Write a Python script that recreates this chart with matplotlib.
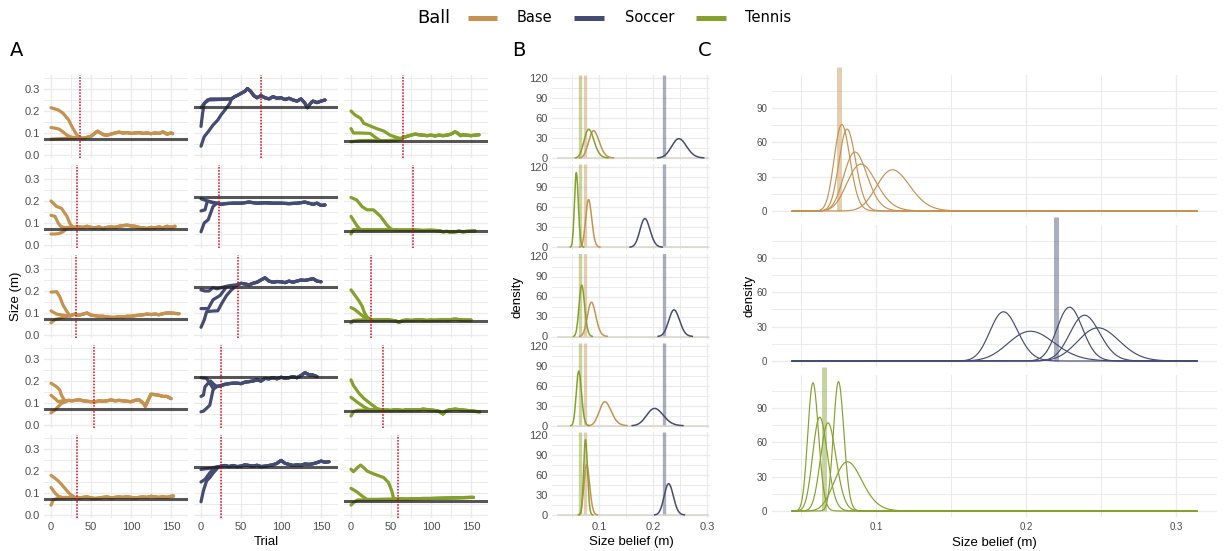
import numpy as np
import matplotlib
matplotlib.use("Agg")
import matplotlib.pyplot as plt
from matplotlib.lines import Line2D
from matplotlib.ticker import FixedLocator, NullFormatter

plt.rcParams['font.family'] = ['Liberation Sans', 'DejaVu Sans']

# ---------------- data ----------------
BALLS = ["Base", "Soccer", "Tennis"]
BALL_COLORS = ["#C69250", "#454C73", "#85A02C"]
TRUE_SIZE = [0.075, 0.22, 0.065]

# trial at which the red dotted line is drawn (rows = participants)
CONV_BASE = [36, 33, 31, 54, 33]
CONV_SOCCER = [75, 22, 46, 25, 25]
CONV_TENNIS = [65, 77.5, 25, 39.5, 59]

# Panel A trajectories: three starts (high / mid / low) then a shared converged tail
BASE_P1 = dict(
    high=([0, 9, 15, 22, 26, 30, 34], [0.215, 0.205, 0.19, 0.16, 0.13, 0.105, 0.083]),
    mid=([0, 5, 10, 15, 20, 25, 30], [0.125, 0.122, 0.118, 0.105, 0.09, 0.082, 0.078]),
    low=([0, 10, 20, 30], [0.072, 0.074, 0.076, 0.078]),
    tail=([35, 40, 45, 50, 55, 58, 62, 66, 70, 75, 80, 85, 90, 95, 100, 105, 110, 115, 120, 125, 130, 135, 140, 145, 150, 152],
          [0.08, 0.076, 0.08, 0.085, 0.1, 0.108, 0.1, 0.092, 0.09, 0.095, 0.1, 0.104, 0.1, 0.102, 0.098, 0.1, 0.102, 0.098, 0.1, 0.097, 0.1, 0.098, 0.105, 0.095, 0.1, 0.097]))
BASE_P2 = dict(
    high=([0, 7, 13, 20, 24, 28], [0.2, 0.175, 0.167, 0.13, 0.095, 0.08]),
    mid=([0, 5, 9, 12, 16], [0.135, 0.13, 0.1, 0.085, 0.08]),
    low=([0, 5, 10, 15, 20], [0.05, 0.05, 0.052, 0.06, 0.075]),
    tail=([28, 35, 40, 45, 50, 55, 60, 65, 70, 75, 80, 85, 90, 95, 100, 105, 110, 115, 120, 125, 130, 135, 140, 145, 150, 155],
          [0.08, 0.082, 0.08, 0.085, 0.08, 0.078, 0.082, 0.075, 0.08, 0.082, 0.08, 0.085, 0.088, 0.09, 0.087, 0.085, 0.08, 0.078, 0.075, 0.08, 0.078, 0.082, 0.078, 0.085, 0.08, 0.085]))
BASE_P3 = dict(
    high=([0, 7, 11, 15, 20, 24], [0.195, 0.197, 0.174, 0.136, 0.106, 0.085]),
    mid=([0, 7, 15, 20], [0.11, 0.095, 0.09, 0.088]),
    low=([0, 5, 10, 15], [0.055, 0.07, 0.075, 0.08]),
    tail=([24, 30, 35, 40, 45, 50, 55, 60, 65, 70, 75, 80, 85, 90, 95, 100, 105, 110, 115, 120, 125, 130, 135, 140, 145, 150, 155, 160],
          [0.088, 0.095, 0.09, 0.095, 0.1, 0.09, 0.088, 0.085, 0.085, 0.082, 0.08, 0.08, 0.083, 0.082, 0.085, 0.085, 0.088, 0.09, 0.092, 0.095, 0.093, 0.095, 0.092, 0.097, 0.1, 0.1, 0.098, 0.097]))
BASE_P4 = dict(
    high=([0, 7, 11, 13, 18], [0.19, 0.174, 0.159, 0.136, 0.106]),
    mid=([0, 5, 9, 14], [0.135, 0.12, 0.106, 0.11]),
    low=([0, 5, 9, 13, 18], [0.055, 0.068, 0.083, 0.098, 0.105]),
    tail=([18, 22, 26, 30, 35, 40, 45, 50, 55, 60, 65, 70, 75, 80, 85, 90, 95, 100, 105, 110, 115, 118, 121, 125, 130, 135, 140, 145, 150],
          [0.108, 0.112, 0.11, 0.112, 0.115, 0.11, 0.108, 0.106, 0.105, 0.11, 0.108, 0.11, 0.114, 0.11, 0.112, 0.11, 0.108, 0.106, 0.112, 0.115, 0.1, 0.085, 0.11, 0.14, 0.138, 0.135, 0.13, 0.13, 0.12]))
BASE_P5 = dict(
    high=([0, 5, 9, 13, 20, 24, 28], [0.18, 0.167, 0.155, 0.14, 0.11, 0.094, 0.085]),
    mid=([0, 5, 9, 14], [0.125, 0.1, 0.086, 0.08]),
    low=([0, 3, 8], [0.045, 0.07, 0.075]),
    tail=([28, 35, 40, 45, 50, 55, 60, 65, 70, 75, 80, 85, 90, 95, 100, 105, 110, 115, 120, 125, 130, 135, 140, 145, 150, 153],
          [0.08, 0.078, 0.08, 0.082, 0.078, 0.075, 0.077, 0.08, 0.082, 0.078, 0.08, 0.082, 0.08, 0.083, 0.08, 0.078, 0.08, 0.082, 0.08, 0.085, 0.082, 0.08, 0.083, 0.08, 0.085, 0.086]))

SOCCER_P1 = dict(
    high=([0, 3, 6, 10], [0.215, 0.23, 0.24, 0.25]),
    mid=([0, 2, 4, 8, 12], [0.13, 0.19, 0.235, 0.25, 0.255]),
    low=([0, 4, 9, 15, 21, 25, 30, 36], [0.04, 0.083, 0.106, 0.136, 0.159, 0.182, 0.205, 0.235]),
    tail=([38, 42, 46, 50, 55, 58, 62, 66, 70, 75, 80, 85, 90, 95, 100, 105, 110, 115, 120, 125, 130, 133, 137, 140, 145, 150, 155],
          [0.255, 0.265, 0.272, 0.28, 0.29, 0.302, 0.29, 0.27, 0.26, 0.27, 0.26, 0.255, 0.265, 0.258, 0.26, 0.252, 0.258, 0.25, 0.245, 0.255, 0.235, 0.215, 0.235, 0.245, 0.238, 0.245, 0.25]))
SOCCER_P2 = dict(
    high=([0, 4, 8, 12, 16, 20], [0.21, 0.205, 0.2, 0.195, 0.19, 0.19]),
    mid=([0, 5, 8, 14, 20], [0.155, 0.16, 0.2, 0.195, 0.19]),
    low=([0, 4, 9, 15, 20], [0.06, 0.1, 0.115, 0.175, 0.19]),
    tail=([20, 25, 30, 40, 50, 60, 70, 80, 90, 100, 110, 120, 130, 140, 145, 150, 155],
          [0.19, 0.185, 0.188, 0.19, 0.19, 0.195, 0.19, 0.192, 0.19, 0.19, 0.188, 0.19, 0.195, 0.185, 0.19, 0.18, 0.182]))
SOCCER_P3 = dict(
    high=([0, 5, 10, 15, 20, 25, 30, 38], [0.205, 0.2, 0.2, 0.215, 0.21, 0.215, 0.22, 0.225]),
    mid=([0, 9, 15, 24, 32, 38], [0.12, 0.12, 0.16, 0.18, 0.22, 0.225]),
    low=([0, 4, 7, 15, 21, 26, 32, 38, 45], [0.035, 0.068, 0.106, 0.109, 0.11, 0.144, 0.18, 0.205, 0.227]),
    tail=([45, 50, 55, 60, 65, 70, 75, 80, 85, 90, 95, 100, 105, 110, 115, 120, 125, 130, 135, 140, 145, 150],
          [0.227, 0.235, 0.232, 0.228, 0.235, 0.24, 0.25, 0.26, 0.245, 0.24, 0.243, 0.242, 0.238, 0.245, 0.24, 0.245, 0.25, 0.248, 0.252, 0.256, 0.245, 0.242]))
SOCCER_P4 = dict(
    high=([0, 7, 11, 15, 20], [0.215, 0.212, 0.19, 0.167, 0.175]),
    mid=([0, 3, 5, 9, 12, 16, 20], [0.13, 0.136, 0.174, 0.19, 0.2, 0.185, 0.175]),
    low=([0, 3, 7, 11, 15, 17, 20], [0.06, 0.063, 0.076, 0.09, 0.159, 0.167, 0.175]),
    tail=([20, 26, 30, 35, 40, 45, 50, 55, 60, 65, 70, 75, 80, 85, 90, 95, 100, 105, 110, 115, 120, 125, 130, 135, 140, 145],
          [0.175, 0.18, 0.185, 0.188, 0.19, 0.19, 0.188, 0.195, 0.197, 0.2, 0.205, 0.2, 0.212, 0.21, 0.215, 0.21, 0.217, 0.213, 0.215, 0.22, 0.215, 0.225, 0.238, 0.228, 0.227, 0.22]))
SOCCER_P5 = dict(
    high=([0, 5, 10, 15, 21], [0.207, 0.21, 0.212, 0.215, 0.22]),
    mid=([0, 5, 11, 17, 21], [0.15, 0.162, 0.192, 0.215, 0.218]),
    low=([0, 3, 7, 11, 15, 21], [0.06, 0.11, 0.155, 0.17, 0.19, 0.215]),
    tail=([21, 25, 30, 35, 40, 45, 50, 55, 60, 65, 70, 75, 80, 85, 90, 95, 100, 105, 110, 115, 120, 125, 130, 135, 140, 145, 150, 155, 160],
          [0.218, 0.222, 0.225, 0.22, 0.225, 0.22, 0.222, 0.228, 0.225, 0.222, 0.226, 0.22, 0.222, 0.225, 0.228, 0.235, 0.248, 0.235, 0.23, 0.225, 0.228, 0.226, 0.232, 0.23, 0.233, 0.238, 0.245, 0.24, 0.242]))

TENNIS_P1 = dict(
    high=([0, 5, 12, 16, 24, 32, 41, 49, 57, 62], [0.2, 0.182, 0.167, 0.144, 0.132, 0.12, 0.109, 0.09, 0.08, 0.075]),
    mid=([0, 3, 12, 24, 32, 37, 45, 55, 62], [0.12, 0.1, 0.1, 0.098, 0.076, 0.065, 0.065, 0.067, 0.072]),
    low=([0, 10, 20, 30, 40, 50, 62], [0.06, 0.065, 0.066, 0.065, 0.065, 0.066, 0.07]),
    tail=([62, 66, 70, 75, 80, 85, 90, 95, 100, 105, 110, 115, 120, 125, 130, 133, 137, 140, 145, 150, 155, 160],
          [0.075, 0.08, 0.085, 0.09, 0.095, 0.092, 0.09, 0.088, 0.09, 0.087, 0.09, 0.088, 0.09, 0.095, 0.105, 0.1, 0.088, 0.092, 0.09, 0.088, 0.09, 0.092]))
TENNIS_P2 = dict(
    high=([0, 7, 14, 20, 28, 37, 45, 49, 52], [0.216, 0.205, 0.174, 0.16, 0.16, 0.13, 0.09, 0.076, 0.07]),
    mid=([0, 7, 12, 16], [0.13, 0.09, 0.068, 0.068]),
    low=([0, 3, 8], [0.05, 0.07, 0.07]),
    tail=([52, 60, 70, 80, 90, 100, 110, 115, 120, 125, 130, 135, 140, 145, 150, 155],
          [0.07, 0.068, 0.068, 0.068, 0.066, 0.067, 0.065, 0.06, 0.062, 0.058, 0.06, 0.063, 0.06, 0.062, 0.063, 0.064]))
TENNIS_P3 = dict(
    high=([0, 5, 10, 14, 17, 20, 25], [0.205, 0.18, 0.155, 0.13, 0.1, 0.082, 0.07]),
    mid=([0, 5, 10, 15, 20], [0.125, 0.115, 0.1, 0.085, 0.075]),
    low=([0, 3, 8], [0.055, 0.066, 0.068]),
    tail=([25, 30, 35, 40, 45, 50, 55, 60, 65, 70, 75, 80, 85, 90, 95, 100, 105, 110, 115, 120, 125, 130, 135, 140, 145, 150],
          [0.07, 0.068, 0.07, 0.068, 0.07, 0.067, 0.065, 0.058, 0.066, 0.068, 0.066, 0.068, 0.07, 0.068, 0.066, 0.068, 0.067, 0.068, 0.07, 0.068, 0.07, 0.072, 0.07, 0.068, 0.068, 0.068]))
TENNIS_P4 = dict(
    high=([0, 3, 10, 16, 24, 32, 39], [0.205, 0.18, 0.144, 0.121, 0.098, 0.076, 0.068]),
    mid=([0, 7, 16, 22], [0.126, 0.106, 0.083, 0.071]),
    low=([0, 3, 8], [0.041, 0.06, 0.067]),
    tail=([39, 45, 50, 55, 60, 65, 70, 75, 80, 85, 90, 95, 100, 105, 110, 115, 118, 122, 126, 130, 135, 140, 145, 150, 155, 161],
          [0.068, 0.068, 0.066, 0.07, 0.068, 0.066, 0.07, 0.068, 0.07, 0.068, 0.072, 0.07, 0.068, 0.066, 0.062, 0.05, 0.062, 0.068, 0.07, 0.072, 0.07, 0.068, 0.066, 0.065, 0.062, 0.06]))
TENNIS_P5 = dict(
    high=([0, 3, 8, 12, 16, 20, 26, 32, 41, 47, 51, 53, 56], [0.208, 0.197, 0.215, 0.227, 0.215, 0.2, 0.19, 0.182, 0.17, 0.147, 0.109, 0.079, 0.072]),
    mid=([0, 7, 14, 20], [0.121, 0.106, 0.086, 0.071]),
    low=([0, 3, 8], [0.045, 0.056, 0.068]),
    tail=([56, 60, 70, 80, 90, 100, 110, 120, 130, 140, 150, 153],
          [0.072, 0.073, 0.072, 0.074, 0.075, 0.075, 0.076, 0.077, 0.078, 0.079, 0.08, 0.08]))

# Final size-belief distributions (mode and peak density), rows = participants
MODE_BASE = [0.090, 0.0807, 0.086, 0.111, 0.0772]
PEAK_BASE = [41, 71.5, 51.5, 36, 75.5]
MODE_SOCCER = [0.248, 0.185, 0.239, 0.203, 0.229]
PEAK_SOCCER = [29, 43, 40, 26, 47]
MODE_TENNIS = [0.081, 0.058, 0.068, 0.0625, 0.075]
PEAK_TENNIS = [43, 112, 77, 82, 113]

TRAJ = [[BASE_P1, BASE_P2, BASE_P3, BASE_P4, BASE_P5],
        [SOCCER_P1, SOCCER_P2, SOCCER_P3, SOCCER_P4, SOCCER_P5],
        [TENNIS_P1, TENNIS_P2, TENNIS_P3, TENNIS_P4, TENNIS_P5]]
CONV = [CONV_BASE, CONV_SOCCER, CONV_TENNIS]
MODES = [MODE_BASE, MODE_SOCCER, MODE_TENNIS]
PEAKS = [PEAK_BASE, PEAK_SOCCER, PEAK_TENNIS]

# ---------------- helpers ----------------
W, H = 1227, 551
fig = plt.figure(figsize=(W / 100, H / 100), dpi=100)

GRID = '#EBEBEB'
TICKC = '#4D4D4D'


def ax_px(left, top, width, height):
    return fig.add_axes([left / W, 1 - (top + height) / H, width / W, height / H])


def fx(px):
    return px / W


def fy(py):
    return 1 - py / H


def style(ax, xmaj, xmin, ymaj, ymin, showx, showy, xlab, ylab, size, pad):
    ax.xaxis.set_major_locator(FixedLocator(xmaj))
    ax.xaxis.set_minor_locator(FixedLocator(xmin))
    ax.yaxis.set_major_locator(FixedLocator(ymaj))
    ax.yaxis.set_minor_locator(FixedLocator(ymin))
    ax.xaxis.set_minor_formatter(NullFormatter())
    ax.yaxis.set_minor_formatter(NullFormatter())
    ax.set_xticklabels(xlab if showx else [])
    ax.set_yticklabels(ylab if showy else [])
    ax.grid(which='major', color=GRID, lw=1.0)
    ax.grid(which='minor', color=GRID, lw=0.7)
    ax.set_axisbelow(True)
    for s in ax.spines.values():
        s.set_visible(False)
    ax.tick_params(which='both', length=0, labelsize=size, labelcolor=TICKC, pad=pad)


def lognorm_density(x, mode, peak):
    k = 1.0 / (mode * peak * np.sqrt(2 * np.pi))
    s = k
    for _ in range(60):
        s = k * np.exp(-s * s / 2)
    mu = np.log(mode) + s * s
    return np.exp(-(np.log(x) - mu) ** 2 / (2 * s * s)) / (x * s * np.sqrt(2 * np.pi))


# ---------------- Panel A ----------------
for r in range(5):
    for c in range(3):
        ax = ax_px(44 + 150 * c, 75 + 90 * r, 144, 83)
        ax.set_xlim(-8.75, 171.25)
        ax.set_ylim(-0.0136, 0.3636)
        style(ax, [0, 50, 100, 150], [25, 75, 125], [0, 0.1, 0.2, 0.3], [0.05, 0.15, 0.25, 0.35],
              r == 4, c == 0, ['0', '50', '100', '150'], ['0.0', '0.1', '0.2', '0.3'], 8, 3.0)
        tr = TRAJ[c][r]
        for key in ('low', 'mid', 'high'):
            t = list(tr[key][0]) + list(tr['tail'][0])
            y = list(tr[key][1]) + list(tr['tail'][1])
            ax.plot(t, y, color=BALL_COLORS[c], lw=2.3, solid_joinstyle='round',
                    solid_capstyle='round', zorder=3)
        ax.axhline(TRUE_SIZE[c], color='#1E1E1E', alpha=0.75, lw=2.2, zorder=4)
        ax.axvline(CONV[c][r], color='#E0000F', lw=1.1, ls=(0, (1.0, 1.0)), zorder=5)

fig.text(fx(16), fy(296.5), 'Size (m)', rotation=90, ha='center', va='center', fontsize=9.5)
fig.text(fx(266), fy(542), 'Trial', ha='center', va='center', fontsize=9.5)

# ---------------- Panel B ----------------
xb = np.linspace(0.024, 0.302, 800)
for r in range(5):
    ax = ax_px(552, 75 + 89.25 * r, 158, 86)
    ax.set_xlim(0.01296, 0.3056)
    ax.set_ylim(-4.5, 124.5)
    style(ax, [0.1, 0.2, 0.3], [0.05, 0.15, 0.25], [0, 30, 60, 90, 120], [15, 45, 75, 105],
          r == 4, True, ['0.1', '0.2', '0.3'], ['0', '30', '60', '90', '120'], 8, 3.0)
    for c in range(3):
        ax.plot([TRUE_SIZE[c], TRUE_SIZE[c]], [0, 124.5], color=BALL_COLORS[c], alpha=0.45,
                lw=2.4, solid_capstyle='butt', zorder=2)
    ax.plot(xb, np.zeros_like(xb), color='#D8D5C8', lw=1.1, zorder=3)
    for c in range(3):
        d = lognorm_density(xb, MODES[c][r], PEAKS[c][r])
        d = np.where(d > 0.25, d, np.nan)
        ax.plot(xb, d, color=BALL_COLORS[c], lw=1.1, zorder=4)

fig.text(fx(517), fy(297), 'density', rotation=90, ha='center', va='center', fontsize=9.5)
fig.text(fx(631), fy(542), 'Size belief (m)', ha='center', va='center', fontsize=9.5)

# ---------------- Panel C ----------------
xc = np.linspace(0.044, 0.314, 1200)
for c in range(3):
    ax = ax_px(772, 75 + 150 * c, 445, 142)
    ax.set_xlim(0.03067, 0.3273)
    ax.set_ylim(-5.24, 118.8)
    style(ax, [0.1, 0.2, 0.3], [0.05, 0.15, 0.25], [0, 30, 60, 90], [15, 45, 75, 105],
          c == 2, True, ['0.1', '0.2', '0.3'], ['0', '30', '60', '90'], 7, 3.5)
    for r in range(5):
        ax.plot(xc, lognorm_density(xc, MODES[c][r], PEAKS[c][r]), color=BALL_COLORS[c],
                lw=0.85, zorder=3)
    ax.plot([TRUE_SIZE[c], TRUE_SIZE[c]], [0, 126], color=BALL_COLORS[c], alpha=0.45,
            lw=3.6, solid_capstyle='butt', zorder=4, clip_on=False)

fig.text(fx(750), fy(296), 'density', rotation=90, ha='center', va='center', fontsize=9.5)
fig.text(fx(994), fy(543), 'Size belief (m)', ha='center', va='center', fontsize=9.5)

# ---------------- panel letters ----------------
for lab, x in (('A', 17), ('B', 519), ('C', 705)):
    fig.text(fx(x), fy(50), lab, ha='center', va='center', fontsize=14, family='DejaVu Sans')

# ---------------- legend ----------------
fig.text(fx(417), fy(18), 'Ball', ha='left', va='center', fontsize=12.9, family='DejaVu Sans')
handles = [(468, 497, 517), (574, 604, 625), (696, 726, 745)]
for c, (h0, h1, tx) in enumerate(handles):
    fig.add_artist(Line2D([fx(h0), fx(h1)], [fy(18), fy(18)], transform=fig.transFigure,
                          color=BALL_COLORS[c], lw=3.6, solid_capstyle='butt'))
    fig.text(fx(tx), fy(18), BALLS[c], ha='left', va='center', fontsize=10.5, family='DejaVu Sans')

fig.savefig('out.png', dpi=100)
